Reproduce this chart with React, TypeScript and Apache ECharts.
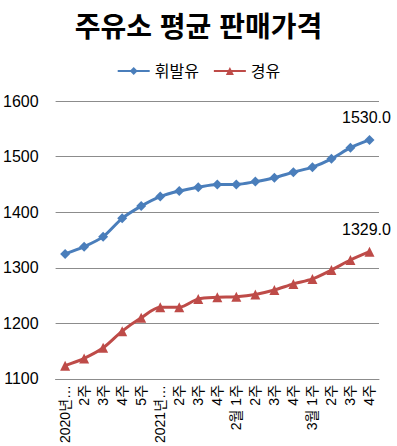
import React, { useEffect, useRef } from "react";
import * as echarts from "echarts";

const categories = [
  "2020년 12월 1주", "2주", "3주", "4주", "5주",
  "2021년 1월 1주", "2주", "3주", "4주",
  "2월 1주", "2주", "3주", "4주",
  "3월 1주", "2주", "3주", "4주",
];
const gasoline = [1325, 1338, 1356, 1389, 1411, 1428, 1438, 1445, 1450, 1450, 1455, 1462, 1472, 1481, 1496, 1516, 1530];
const diesel = [1124, 1137, 1156, 1186, 1210, 1229, 1229, 1244, 1247, 1248, 1252, 1260, 1271, 1280, 1296, 1314, 1329];
const yTicks = { min: 1100, max: 1600, interval: 100 };

const FONT = "'Liberation Sans', 'Noto Sans CJK KR', sans-serif";
const BLUE = "#4a7ebb";
const RED = "#be4b48";

function withLastLabel(values: number[]) {
  return values.map((v, i) =>
    i === values.length - 1
      ? {
          value: v,
          label: {
            show: true,
            position: "top",
            distance: 9,
            offset: [-3, 0],
            formatter: (p: any) => Number(p.value).toFixed(1),
            fontSize: 16,
            color: "#000",
            fontFamily: FONT,
          },
        }
      : v
  );
}

export default function App() {
  const ref = useRef<HTMLDivElement>(null);
  useEffect(() => {
    if (!ref.current) return;
    const chart = echarts.init(ref.current, undefined, { renderer: "svg" });
    chart.setOption({
      animation: false,
      backgroundColor: "#fff",
      title: {
        text: "주유소 평균 판매가격",
        left: "center",
        top: 8,
        textStyle: { fontSize: 28, fontWeight: "bold", color: "#000", fontFamily: FONT },
      },
      legend: {
        top: 58,
        left: "center",
        itemWidth: 32,
        itemHeight: 10,
        itemGap: 14,
        textStyle: { fontSize: 16, color: "#000", fontFamily: FONT },
        data: ["휘발유", "경유"],
      },
      grid: { left: 54, right: 18, top: 101, bottom: 66, containLabel: false },
      xAxis: {
        type: "category",
        data: categories,
        boundaryGap: true,
        axisLine: { lineStyle: { color: "#8c8c8c", width: 1 } },
        axisTick: { show: false },
        axisLabel: {
          rotate: 90,
          interval: 0,
          margin: 6,
          fontSize: 14,
          color: "#000",
          fontFamily: FONT,
          overflow: "truncate",
          width: 60,
          ellipsis: "…",
        },
      },
      yAxis: {
        type: "value",
        min: yTicks.min,
        max: yTicks.max,
        interval: yTicks.interval,
        axisLine: { show: false },
        axisTick: { show: false },
        axisLabel: {
          fontSize: 16,
          color: "#000",
          margin: 17,
          fontFamily: FONT,
          formatter: (v: number) => String(v),
        },
        splitLine: { lineStyle: { color: "#8c8c8c", width: 1 } },
      },
      series: [
        {
          name: "휘발유",
          type: "line",
          data: withLastLabel(gasoline),
          smooth: 0.3,
          symbol: "diamond",
          symbolSize: 10,
          color: BLUE,
          lineStyle: { color: BLUE, width: 3 },
          itemStyle: { color: BLUE },
        },
        {
          name: "경유",
          type: "line",
          data: withLastLabel(diesel),
          smooth: 0.3,
          symbol: "triangle",
          symbolSize: 10,
          color: RED,
          lineStyle: { color: RED, width: 3 },
          itemStyle: { color: RED },
        },
      ],
    });
    return () => chart.dispose();
  }, []);
  return (
    <div
      ref={ref}
      style={{ position: "absolute", left: 0, top: 0, width: 397, height: 446 }}
    />
  );
}
